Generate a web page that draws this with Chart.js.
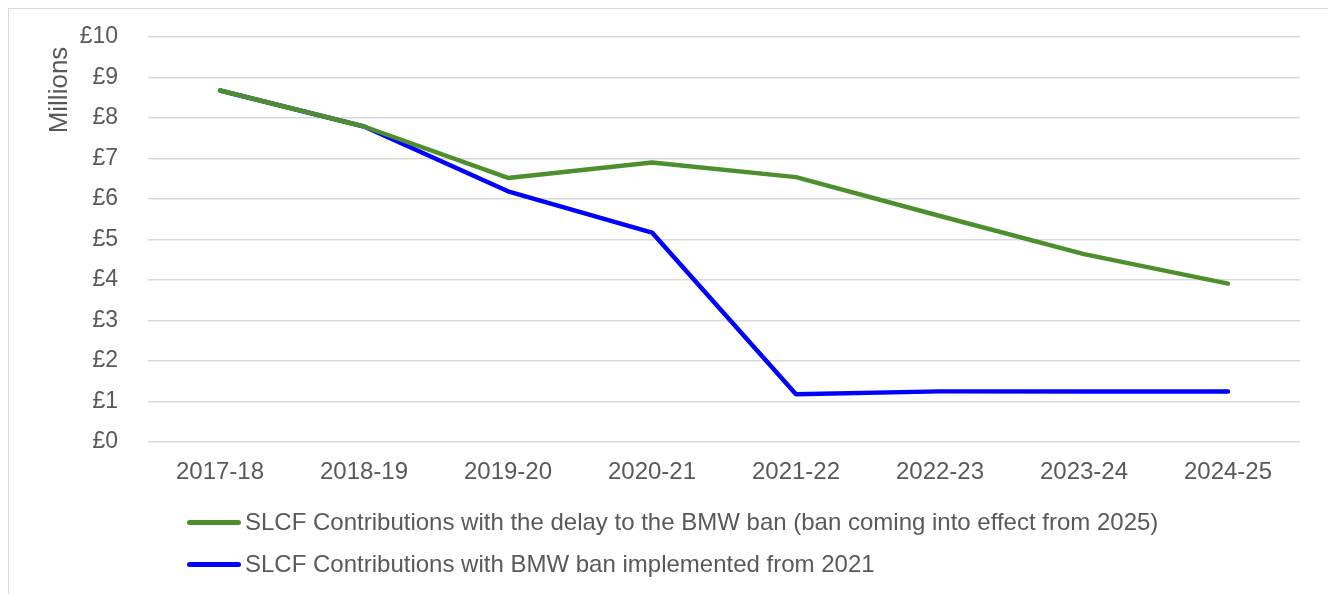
<!DOCTYPE html>
<html>
<head>
<meta charset="utf-8">
<script src="https://cdn.jsdelivr.net/npm/chart.js@4.4.1/dist/chart.umd.min.js"></script>
<style>
  html, body { margin: 0; padding: 0; background: #fff; }
  body { width: 1328px; height: 594px; position: relative; overflow: hidden; font-family: "Liberation Sans", Arial, sans-serif; }
  #frame { position: absolute; left: 8px; top: 8px; width: 1340px; height: 600px; border: 1px solid #d9d9d9; box-sizing: border-box; }
  #wrap { position: absolute; left: 0; top: 0; width: 1328px; height: 594px; }
  #legend { position: absolute; left: 187px; top: 501px; color: #595959; font-size: 24px; }
  .item { display: flex; align-items: center; height: 42px; }
  .swatch { width: 54px; height: 5px; border-radius: 3px; margin-right: 4px; }
</style>
</head>
<body>
<div id="frame"></div>
<div id="wrap"><canvas id="line-chart"></canvas></div>
<div id="legend"></div>
<script>
// Line Chart

const years = ["2017-18", "2018-19", "2019-20", "2020-21", "2021-22", "2022-23", "2023-24", "2024-25"];
const delayValues = [8.68, 7.79, 6.52, 6.90, 6.54, 5.58, 4.64, 3.91];
const banValues = [8.68, 7.79, 6.19, 5.17, 1.18, 1.25, 1.25, 1.25];
const yTicks = [0, 1, 2, 3, 4, 5, 6, 7, 8, 9, 10];

const GREEN = "#4e8f2d";
const BLUE = "#0000ff";
const TEXT = "#595959";
const GRID = "#d9d9d9";
const FONT = '"Liberation Sans", Arial, sans-serif';

const ctx = document.getElementById("line-chart");

const yTitle = {
  id: "yTitle",
  afterDraw(chart) {
    const c = chart.ctx;
    c.save();
    c.translate(60, 90);
    c.rotate(-Math.PI / 2);
    c.fillStyle = TEXT;
    c.font = "26px " + FONT;
    c.textAlign = "center";
    c.textBaseline = "middle";
    c.fillText("Millions", 0, 0);
    c.restore();
  },
};

const chart = new Chart(ctx, {
  type: "line",
  data: {
    labels: years,
    datasets: [{
        label: "SLCF Contributions with the delay to the BMW ban (ban coming into effect from 2025)",
        data: delayValues,
        borderColor: GREEN,
        backgroundColor: GREEN,
        borderWidth: 4.5,
        pointRadius: 0,
        borderCapStyle: "round",
        borderJoinStyle: "round",
        tension: 0,
      },
      {
        label: "SLCF Contributions with BMW ban implemented from 2021",
        data: banValues,
        borderColor: BLUE,
        backgroundColor: BLUE,
        borderWidth: 4.5,
        pointRadius: 0,
        borderCapStyle: "round",
        borderJoinStyle: "round",
        tension: 0,
      },
    ],
  },
  options: {
    responsive: true,
    maintainAspectRatio: false,
    animation: false,
    layout: {
      padding: { top: 37, right: 28, bottom: 92, left: 0 },
    },
    plugins: {
      legend: { display: false },
      tooltip: { enabled: false },
    },
    scales: {
      x: {
        offset: true,
        border: { display: false },
        grid: { display: false, offset: true },
        ticks: {
          color: TEXT,
          font: { family: FONT, size: 24 },
          padding: 8,
          maxRotation: 0,
          autoSkip: false,
        },
        afterFit(scale) { scale.height = 60; },
      },
      y: {
        min: 0,
        max: 10,
        border: { display: false },
        grid: { color: GRID, lineWidth: 1.5, drawTicks: false },
        afterBuildTicks(scale) {
          scale.ticks = yTicks.map((v) => ({ value: v }));
        },
        ticks: {
          color: TEXT,
          font: { family: FONT, size: 23 },
          padding: 30,
          callback: (v) => "£" + v,
        },
        afterFit(scale) {
          scale.width = 148;
          scale.paddingTop = 0;
          scale.paddingBottom = 0;
        },
      },
    },
  },
  plugins: [yTitle],
});

// HTML legend
const legend = document.getElementById("legend");
chart.data.datasets.forEach((ds) => {
  const row = document.createElement("div");
  row.className = "item";
  const sw = document.createElement("span");
  sw.className = "swatch";
  sw.style.background = ds.borderColor;
  const label = document.createElement("span");
  label.textContent = ds.label;
  row.appendChild(sw);
  row.appendChild(label);
  legend.appendChild(row);
});
</script>
</body>
</html>
